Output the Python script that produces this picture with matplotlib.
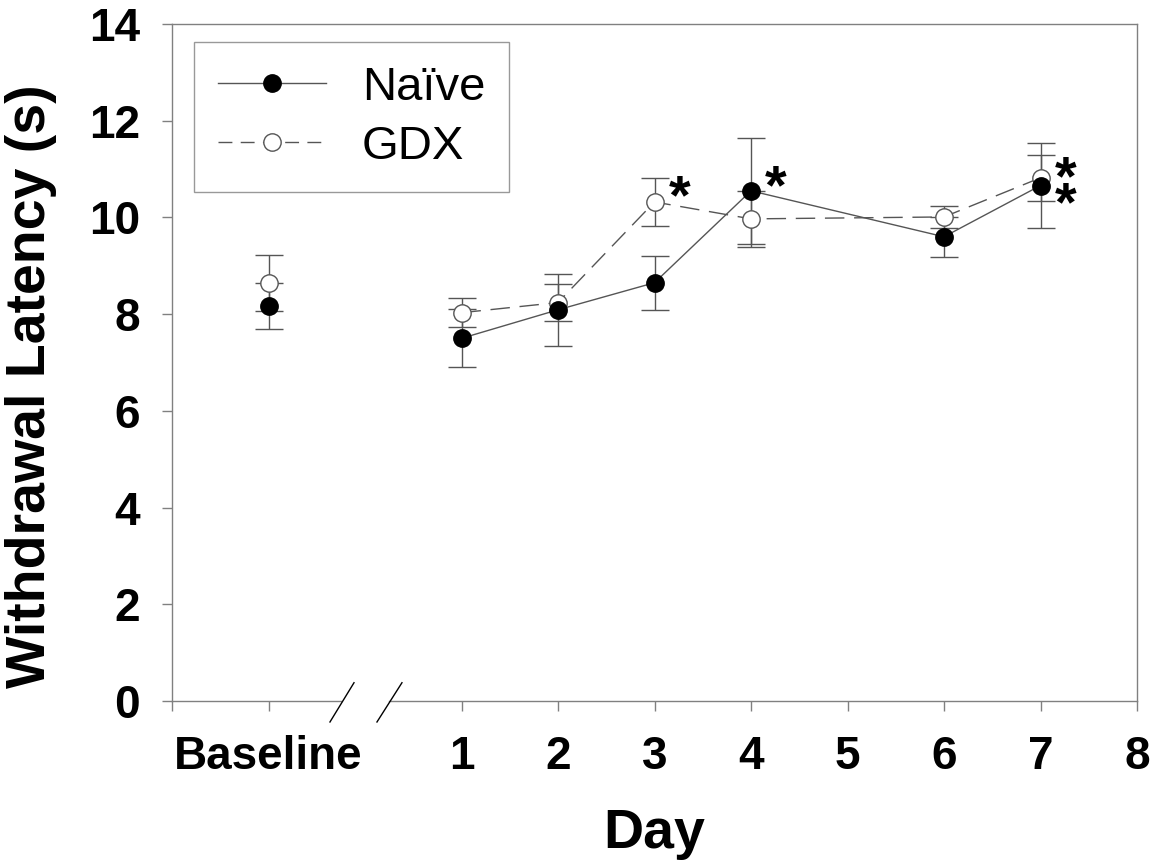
import matplotlib
matplotlib.use("Agg")
import matplotlib.pyplot as plt
import matplotlib.transforms as mtransforms
import numpy as np

plt.rcParams['font.family'] = ['Liberation Sans', 'DejaVu Sans']

# x positions: baseline sits left of the axis break, days 1-7 after it
x_pos = [-1, 1, 2, 3, 4, 6, 7]
tick_pos = [-2, -1, 1, 2, 3, 4, 5, 6, 7, 8]
tick_labels = ['', 'Baseline', '1', '2', '3', '4', '5', '6', '7', '8']

naive_mean = [8.17, 7.50, 8.09, 8.65, 10.55, 9.60, 10.66]
naive_err = [0.47, 0.60, 0.75, 0.56, 1.10, 0.41, 0.88]
gdx_mean = [8.64, 8.03, 8.24, 10.32, 9.97, 10.01, 10.82]
gdx_err = [0.58, 0.30, 0.38, 0.50, 0.58, 0.23, 0.48]

# significance markers: (day, series)
sig_naive = [4, 7]
sig_gdx = [3, 7]

line_gray = '#555555'
axis_gray = '#808080'

fig = plt.figure(figsize=(11.52, 8.6), dpi=100)
ax = fig.add_axes([172/1152, 1-701/860, (1137-172)/1152, (701-24)/860])

# error bars (baseline and days)
for mean, err in [(naive_mean, naive_err), (gdx_mean, gdx_err)]:
    ax.errorbar(x_pos, mean, yerr=err, fmt='none', ecolor=line_gray,
                elinewidth=1.0, capsize=10, capthick=1.0, zorder=2)

# daily values connected; baseline stands alone
ax.plot(x_pos[1:], naive_mean[1:], '-', color=line_gray, lw=1.0, zorder=3)
ax.plot(x_pos[1:], gdx_mean[1:], '--', color=line_gray, lw=1.0,
        dashes=(14, 7), zorder=3)

ax.plot(x_pos, gdx_mean, 'o', ms=12.5, mfc='white', mec=line_gray, mew=1.0,
        zorder=4)
ax.plot(x_pos, naive_mean, 'o', ms=12.5, mfc='black', mec='black', mew=1.0,
        zorder=5)

# legend proxies
h1, = ax.plot([], [], '-', color=line_gray, lw=1.0, marker='o', ms=12.5,
              mfc='black', mec='black')
h2, = ax.plot([], [], '--', color=line_gray, lw=1.0, dashes=(10, 6),
              marker='o', ms=12.5, mfc='white', mec=line_gray)
leg = ax.legend([h1, h2], ['Naïve', 'GDX'], loc='upper left',
                bbox_to_anchor=(22/965, 1-18/677), fontsize=34,
                frameon=True, fancybox=False, edgecolor=axis_gray,
                handlelength=2.3, handletextpad=0.75, labelspacing=0.32,
                borderpad=0.5, borderaxespad=0)
leg.get_frame().set_linewidth(1.0)

# asterisks
for d in sig_gdx:
    i = x_pos.index(d)
    dy = -2 if d == 7 else 2
    ax.annotate('*', (d, gdx_mean[i]), xytext=(18, dy), textcoords='offset points',
                ha='center', va='center', fontsize=40, fontweight='bold')
for d in sig_naive:
    i = x_pos.index(d)
    dy = -15 if d == 7 else 1
    ax.annotate('*', (d, naive_mean[i]), xytext=(18, dy), textcoords='offset points',
                ha='center', va='center', fontsize=40, fontweight='bold')

ax.set_xlim(-2, 8)
ax.set_ylim(0, 14)
ax.set_xticks(tick_pos)
ax.set_xticklabels(tick_labels)
ax.set_yticks(np.arange(0, 15, 2))

for s in ax.spines.values():
    s.set_color(axis_gray)
    s.set_linewidth(1.0)
ax.spines['bottom'].set_visible(False)

# bottom axis with a break between baseline and day 1
trans = mtransforms.blended_transform_factory(ax.transData, ax.transAxes)
ax.plot([-2, -0.25], [0, 0], color=axis_gray, lw=1.0, transform=trans,
        clip_on=False, zorder=1)
ax.plot([0.25, 8], [0, 0], color=axis_gray, lw=1.0, transform=trans,
        clip_on=False, zorder=1)
for x0, x1 in [(-0.363, -0.114), (0.124, 0.383)]:
    ax.plot([x0, x1], [-0.031, 0.027], color='black', lw=1.0, transform=trans,
            clip_on=False, zorder=1)

ax.tick_params(axis='both', direction='out', length=7.2, width=1.0,
               color=axis_gray, labelsize=33)
ax.tick_params(axis='x', pad=17)
ax.tick_params(axis='y', pad=16)
for lab in ax.get_xticklabels() + ax.get_yticklabels():
    lab.set_fontweight('bold')

ax.set_xlabel('Day', fontsize=40, fontweight='bold', va='center')
ax.set_ylabel('Withdrawal Latency (s)', fontsize=40, fontweight='bold', va='center')
ax.xaxis.set_label_coords(0.5, (701-834)/677)
ax.yaxis.set_label_coords((31-172)/965, (701-386)/677)

fig.savefig('out.png', dpi=100)
